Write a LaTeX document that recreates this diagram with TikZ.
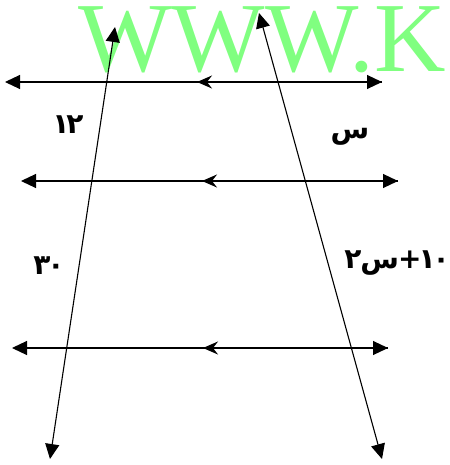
\documentclass[tikz,border=0pt]{standalone}
\usepackage{fontspec}
\setmainfont{Liberation Serif}
\newfontfamily\arabicfont[Script=Arabic]{DejaVu Sans}
\usetikzlibrary{arrows.meta}
\definecolor{markgreen}{RGB}{128,255,128}
\newcommand{\gl}[1]{\mbox{#1}}
\newcommand{\tk}{\kern-3pt}
\tikzset{
  pline/.style={line width=1.1pt, {Triangle[length=15pt,width=14pt]}-{Triangle[length=15pt,width=14pt]}},
  tline/.style={line width=1.1pt, {Triangle[length=15pt,width=14pt]}-{Triangle[length=15pt,width=14pt]}},
  midarrow/.style={line width=1.1pt, -{Stealth[length=15pt,width=13pt,inset=5pt]}},
  lbl/.style={font=\arabicfont\bfseries\fontsize{28}{28}\selectfont, inner sep=0pt},
  wmark/.style={font=\fontsize{99}{99}\selectfont, text=markgreen, inner sep=0pt, anchor=base west},
}
\begin{document}
\begin{tikzpicture}[x=1pt,y=-1pt]
  \useasboundingbox (0,0) rectangle (449,465);
  % watermark
  \node[wmark] (wm) at (78,72) {WWW.K};
  % parallel lines
  \coordinate (a1) at (5,82);   \coordinate (b1) at (382,82);  \coordinate (m1) at (197,82);
  \coordinate (a2) at (21,181); \coordinate (b2) at (398,181); \coordinate (m2) at (202,181);
  \coordinate (a3) at (12,348); \coordinate (b3) at (388,348); \coordinate (m3) at (203,348);
  \foreach \i in {1,2,3} {
    \draw[pline] (a\i) -- (b\i);
    \draw[midarrow] (b\i) -- (m\i);
  }
  % transversals
  \coordinate (p1) at (115,27); \coordinate (q1) at (50,459);
  \coordinate (p2) at (259,13); \coordinate (q2) at (382,459);
  \draw[tline] (q1) -- (p1);
  \draw[tline] (q2) -- (p2);
  % labels
  \node[lbl] (l12) at (68,125) {\gl{١}\tk\gl{٢}};
  \node[lbl] (lx) at (350,137) {س};
  \node[lbl] (l30) at (49,266) {\gl{٣}\tk\gl{٠}};
  \node[lbl] (lexp) at (397,263) {\gl{٢}\kern-1pt\gl{س}\kern-1pt\gl{+}\tk\gl{١}\tk\gl{٠}};
\end{tikzpicture}
\end{document}
